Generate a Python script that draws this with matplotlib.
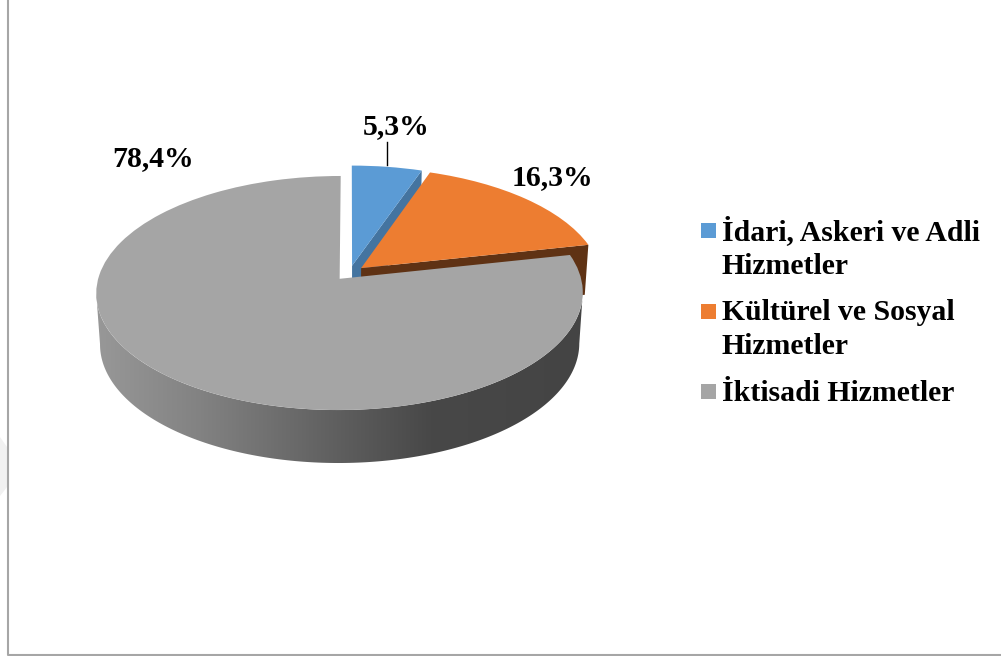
import numpy as np
import matplotlib
matplotlib.use("Agg")
import matplotlib.pyplot as plt
from matplotlib.patches import Polygon, Rectangle
from matplotlib.transforms import Transform

categories = ["İdari, Askeri ve Adli\nHizmetler", "Kültürel ve Sosyal\nHizmetler", "İktisadi Hizmetler"]
shares = [5.3, 16.3, 78.4]
explode = [0.065, 0.065, 0.065]
top_colors = ["#5B9BD5", "#ED7D31", "#A5A5A5"]
side_colors = ["#4474A0", "#5F3214", None]
label_pos = [(396, 127), (552, 178), (153, 159)]
legend_y = [223, 304, 384]
legend_text_y = [274, 354, 401]


class PieView(Transform):
    # tilted pie: unit circle to pixels, with perspective, optionally the bottom face
    input_dims = 2
    output_dims = 2
    is_separable = False

    def __init__(self, bottom=False):
        super().__init__()
        self.bottom = bottom

    def transform_non_affine(self, values):
        xy = np.asarray(values, dtype=float)
        d = 1 + 0.1207 * xy[:, 1]
        x = 349.5 + 240 * xy[:, 0] / d
        y = 273 - 113.9 * xy[:, 1] / d
        if self.bottom:
            x = 349.5 + 0.985 * (x - 349.5)
            y = 323.5 + 1.018 * (y - 273)
        return np.column_stack([x, y])


def rim(wedge, angles):
    a = np.radians(angles)
    return np.column_stack([wedge.center[0] + wedge.r * np.cos(a), wedge.center[1] + wedge.r * np.sin(a)])


top = PieView()
low = PieView(bottom=True)

fig = plt.figure(figsize=(10.01, 6.56), dpi=100)
ax = fig.add_axes([0, 0, 1, 1])
wedges, _ = ax.pie(shares, explode=explode, colors=top_colors, startangle=90, counterclock=False)
ax.set_aspect("auto")
ax.set_frame_on(False)

for i, w in enumerate(wedges):
    w.set_transform(top + ax.transData)
    w.set_zorder(2 * i + 2)
    w.set_linewidth(0)
    if side_colors[i]:
        c = np.array([w.center])
        edge = rim(w, [w.theta1])
        face = np.vstack([top.transform(c), top.transform(edge), low.transform(edge), low.transform(c)])
        ax.add_patch(Polygon(face, closed=True, fc=side_colors[i], ec="none", zorder=2 * i + 1))

# outer wall of the big slice, from its right extreme to its left extreme, shaded left to right
w = wedges[2]
arc = rim(w, np.linspace(w.theta2, -200, 400))
arc_x = top.transform(arc)[:, 0]
arc = arc[arc_x.argmax():arc_x.argmin() + 1]
wall = Polygon(np.vstack([top.transform(arc), low.transform(arc)[::-1]]), closed=True, transform=ax.transData)
px = np.arange(90, 590)
shade = np.interp(px, [96, 200, 340, 430, 581], [152, 130, 94, 72, 68]) / 255
im = ax.imshow(np.dstack([shade, shade, shade]).reshape(1, -1, 3), extent=[90, 590, 480, 170],
               aspect="auto", zorder=5)
im.set_clip_path(wall)

ax.set_xlim(0, 1001)
ax.set_ylim(656, 0)
ax.axis("off")

font = dict(family="Liberation Serif", weight="bold", size=21.4, color="black")
for v, (x, y) in zip(shares, label_pos):
    ax.text(x, y, f"{v:.1f}".replace(".", ",") + "%", ha="center", va="center", **font)
ax.plot([386.5, 386.5], [142, 165], color="black", lw=1, zorder=8)

for name, c, y, ty in zip(categories, top_colors, legend_y, legend_text_y):
    ax.add_patch(Rectangle((701, y), 15, 15, fc=c, ec="none"))
    ax.text(722, ty, name, ha="left", va="baseline", linespacing=1.35, **font)

# picture border and the faint mark at the left edge
ax.plot([8, 8, 1001], [0, 654.5, 654.5], color="#a6a6a6", lw=1.5, clip_on=False)
ax.add_patch(Polygon([[0, 437], [7, 447], [7, 487], [0, 496]], closed=True, fc="#f1f1f1", ec="none"))

fig.savefig("out.png", dpi=100)
